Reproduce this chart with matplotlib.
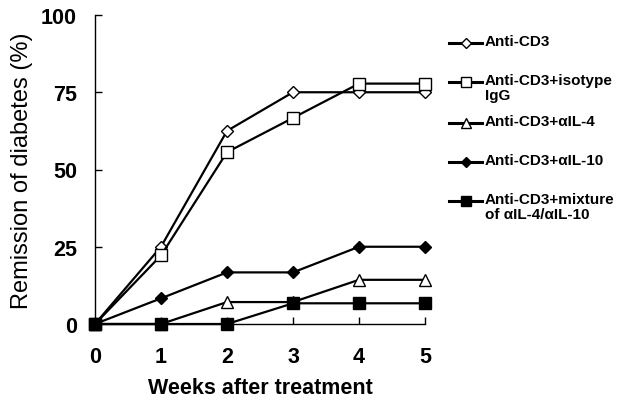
import matplotlib.pyplot as plt
from matplotlib.lines import Line2D

plt.rcParams['font.family'] = ['Liberation Sans', 'DejaVu Sans']

weeks = [0, 1, 2, 3, 4, 5]
anti_cd3 = [0, 25.0, 62.5, 75.0, 75.0, 75.0]
isotype_igg = [0, 22.2, 55.6, 66.7, 77.8, 77.8]
anti_il4 = [0, 0, 7.1, 7.1, 14.3, 14.3]
anti_il10 = [0, 8.3, 16.7, 16.7, 25.0, 25.0]
mixture = [0, 0, 0, 6.7, 6.7, 6.7]

labels = ["Anti-CD3", "Anti-CD3+isotype\nIgG", "Anti-CD3+\u03b1IL-4",
          "Anti-CD3+\u03b1IL-10", "Anti-CD3+mixture\nof \u03b1IL-4/\u03b1IL-10"]
yticks = [0, 25, 50, 75, 100]

# marker, size, facecolor for each series
styles = [("D", 6.5, "white"), ("s", 9, "white"), ("^", 8.5, "white"),
          ("D", 6.5, "black"), ("s", 9, "black")]
series = [anti_cd3, isotype_igg, anti_il4, anti_il10, mixture]

fig = plt.figure(figsize=(6.17, 4.02), dpi=100)
ax = fig.add_axes([95 / 617, 1 - 325 / 402, 330 / 617, 309 / 402])

for ys, (m, ms, fc) in zip(series, styles):
    ax.plot(weeks, ys, color="black", lw=1.6, marker=m, markersize=ms,
            markerfacecolor=fc, markeredgecolor="black", markeredgewidth=1.0,
            clip_on=False)

ax.set_xlim(0, 5)
ax.set_ylim(0, 100)
ax.set_xticks(weeks)
ax.set_yticks(yticks)
ax.spines["top"].set_visible(False)
ax.spines["right"].set_visible(False)
ax.spines["left"].set_linewidth(1.0)
ax.spines["bottom"].set_linewidth(1.0)
ax.tick_params(direction="in", length=5, width=1.0, labelsize=15.5)
ax.tick_params(axis="x", pad=16)
ax.tick_params(axis="y", pad=13)
for t in ax.get_xticklabels() + ax.get_yticklabels():
    t.set_fontweight("bold")
ax.set_xlabel("Weeks after treatment", fontsize=15.5, fontweight="bold", labelpad=7)
ax.set_ylabel("Remission of diabetes (%)", fontsize=17, labelpad=6)

# legend drawn by hand so the handle sits on the first text line
leg_y = [44, 83, 124, 163, 202]
for lab, (m, ms, fc), py in zip(labels, styles, leg_y):
    fy = 1 - py / 402
    fig.add_artist(Line2D([449 / 617, 482 / 617], [fy, fy], transform=fig.transFigure,
                          color="black", lw=2.2))
    fig.add_artist(Line2D([465.5 / 617], [fy], transform=fig.transFigure,
                          marker=m, markersize=ms * 0.8, markerfacecolor=fc,
                          markeredgecolor="black", markeredgewidth=1.0))
    fig.text(485 / 617, 1 - (py - 9) / 402, lab, fontsize=11, fontweight="bold",
             va="top", ha="left", linespacing=1.1)

fig.savefig("out.png", dpi=100)
